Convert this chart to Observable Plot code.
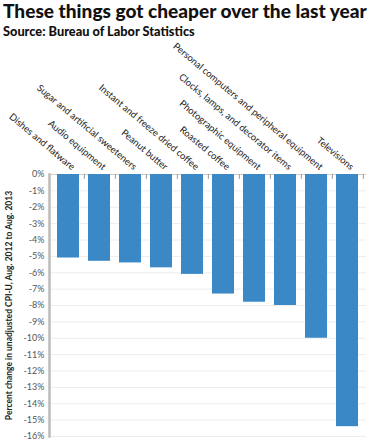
<!DOCTYPE html>
<html><head><meta charset="utf-8">
<script src="https://cdn.jsdelivr.net/npm/d3@7"></script>
<script src="https://cdn.jsdelivr.net/npm/@observablehq/plot@0.6"></script>
<style>
body{margin:0;background:#fff;font-family:Lato,"Liberation Sans",sans-serif;width:367px;height:442px;overflow:hidden;}
#title{font-weight:900;font-size:18px;line-height:22px;height:22px;padding-left:3px;white-space:nowrap;color:#111;}
#sub{font-weight:900;font-size:10.5px;line-height:19px;height:18px;padding-left:3px;color:#111;white-space:nowrap;}
</style></head><body>
<div id="title"><span id="tspan">These things got cheaper over the last year</span></div>
<div id="sub"><span id="sspan">Source: Bureau of Labor Statistics</span></div>
<div id="chart"></div>
<script>
const categories = [
  "Dishes and flatware",
  "Audio equipment",
  "Sugar and artificial sweeteners",
  "Peanut butter",
  "Instant and freeze dried coffee",
  "Roasted coffee",
  "Photographic equipment",
  "Clocks, lamps, and decorator items",
  "Personal computers and peripheral equipment",
  "Televisions"
];
const changes = [-5.1, -5.3, -5.4, -5.7, -6.1, -7.3, -7.8, -8.0, -10.0, -15.4];
const yTicks = d3.range(0, -17, -1);
const yLabel = "Percent change in unadjusted CPI-U, Aug. 2012 to Aug. 2013";

// fit header text widths to the reference
function fit(id, target) {
  const el = document.getElementById(id);
  const w = el.getBoundingClientRect().width;
  const fs = parseFloat(getComputedStyle(el.parentNode).fontSize);
  el.parentNode.style.fontSize = (fs * target / w) + "px";
}
fit("tspan", 364);
fit("sspan", 192);

const data = categories.map((c, i) => ({category: c, value: changes[i]}));

const W = 367, H = 402, mL = 49, mR = 1, mT = 134, mB = 6;
const padIn = 0.28, padOut = 0.14;
const step = (W - mL - mR) / (categories.length - padIn + 2 * padOut);

const chart = Plot.plot({
  width: W, height: H,
  marginLeft: mL, marginRight: mR, marginTop: mT, marginBottom: mB,
  style: {fontFamily: "Lato, 'Liberation Sans', sans-serif", background: "#fff", overflow: "visible"},
  x: {domain: categories, paddingInner: padIn, paddingOuter: padOut, axis: null},
  y: {domain: [-16, 0], ticks: yTicks, tickFormat: d => (d === 0 ? "0" : String(d)) + "%"},
  marks: [
    Plot.ruleY(yTicks.filter(d => d !== 0), {stroke: "#ececec", strokeWidth: 1}),
    Plot.ruleY([0], {stroke: "#cfcfcf", strokeWidth: 1}),
    Plot.barY(data, {x: "category", y: "value", fill: "#3a88c5"}),
    Plot.ruleX(categories, {x: d => d, y1: 0, y2: -0.3, dx: step / 2, stroke: "#999", strokeWidth: 1}),
    Plot.axisY({ticks: yTicks, tickFormat: d => d + "%", tickSize: 0, tickPadding: 5, fontSize: 9, fill: "#555",
      label: yLabel, labelAnchor: "center", labelArrow: "none", labelOffset: 44}),
    Plot.frame({anchor: "left", stroke: "#bbb", strokeWidth: 2.5}),
    Plot.text(data, {x: "category", y: 0, text: "category", rotate: 40, textAnchor: "end", lineAnchor: "bottom",
      dx: 3, dy: -4, fontSize: 9.5, fill: "#222"})
  ]
});
document.getElementById("chart").appendChild(chart);
// style the y-axis label
chart.querySelectorAll("g[aria-label='y-axis label'] text").forEach(t => {
  t.setAttribute("font-size", "8.5"); t.setAttribute("font-weight", "700"); t.setAttribute("fill", "#222");
});
</script>
</body></html>
